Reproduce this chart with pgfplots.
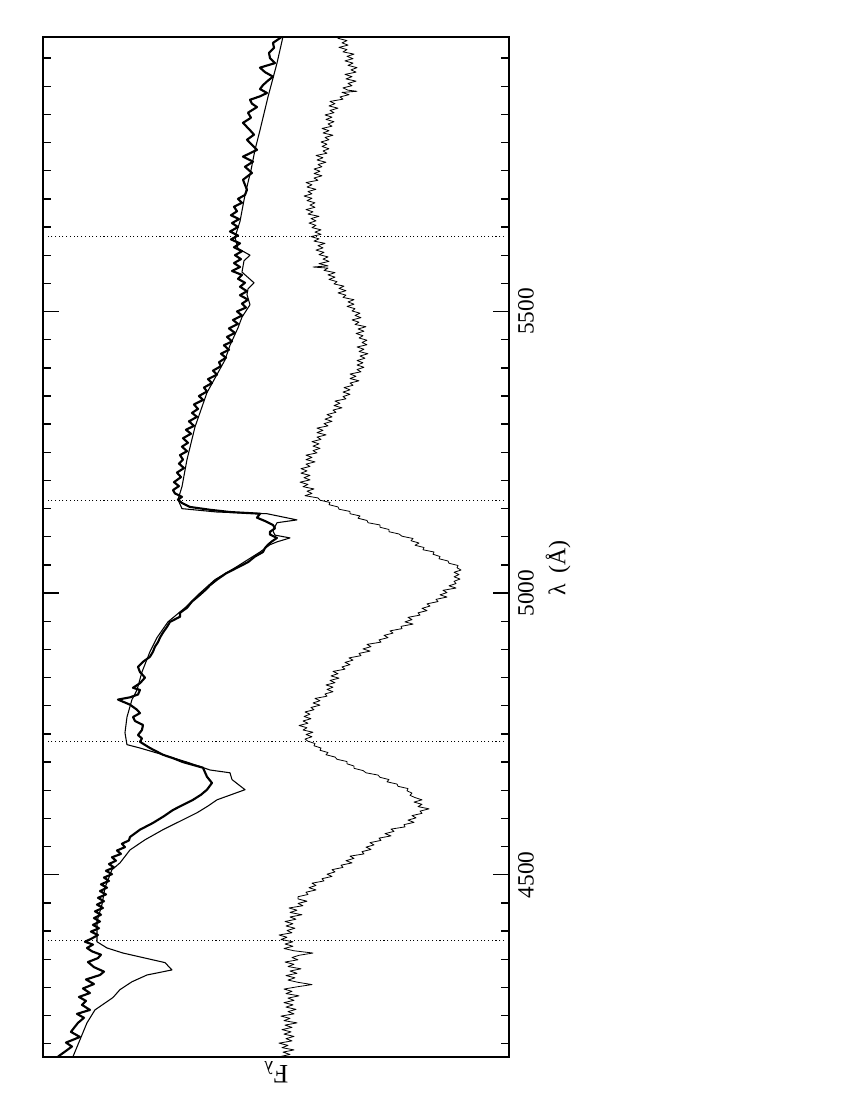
\documentclass[border=0pt]{standalone}
\usepackage{fontspec}
\setmainfont{Liberation Serif}
\usepackage{pgfplots}
\pgfplotsset{compat=1.18}

\begin{document}
\begin{tikzpicture}
% page frame, 850 x 1100 px at 0.75pt per px
\path (0,0) rectangle (637.5pt,825pt);
\begin{axis}[
  at={(32pt,32.5pt)}, anchor=south west,
  scale only axis, width=350pt, height=765pt,
  x dir=reverse,
  xmin=0.7, xmax=467.3,
  ymin=4177, ymax=5988,
  xtick=\empty,
  ytick={4500,5000,5500},
  minor ytick={4200,4250,...,5950},
  yticklabel pos=right,
  ytick pos=both,
  tick align=inside,
  major tick length=12pt, minor tick length=6pt,
  every tick/.append style={line width=1pt, black},
  axis line style={line width=1.4pt},
  /pgf/number format/assume math mode=true,
  /pgf/number format/1000 sep={},
  tick label style={font=\fontsize{17.5}{20}\selectfont},
  yticklabel style={rotate=90, anchor=north},
  yticklabel shift={3pt},
  ylabel={λ\hspace{0.45em}(Å)},
  ylabel style={at={(ticklabel cs:0.479,2pt)}, font=\fontsize{18}{20}\selectfont},
  xlabel={F\textsubscript{λ}},
  xlabel style={at={(rel axis cs:0.5,0)}, anchor=south, rotate=180, font=\fontsize{20}{22}\selectfont},
]

% line positions
\addplot[black, dotted, line width=0.8pt] coordinates {(6,4383) (462,4383)};
\addplot[black, dotted, line width=0.8pt] coordinates {(6,4737) (462,4737)};
\addplot[black, dotted, line width=0.8pt] coordinates {(6,5164) (462,5164)};
\addplot[black, dotted, line width=0.8pt] coordinates {(6,5633) (462,5633)};

% lower spectrum
\addplot[black, line width=0.6pt, line join=round] table[x=f, y=lam, row sep=\\] {
lam f\\
4177 230\\ 4181 220\\ 4185 227\\ 4189 216\\ 4193 228\\ 4197 222\\ 4201 231\\ 4205 218\\ 4209 224\\ 4213 216\\
4217 226\\ 4221 219\\ 4225 228\\ 4229 218\\ 4233 225\\ 4237 213\\ 4241 226\\ 4245 220\\ 4249 229\\ 4253 216\\
4257 222\\ 4261 214\\ 4265 224\\ 4269 217\\ 4273 226\\ 4277 216\\ 4281 222\\ 4285 211\\ 4289 224\\ 4293 218\\
4297 226\\ 4301 213\\ 4305 198\\ 4309 212\\ 4313 222\\ 4317 215\\ 4321 224\\ 4325 213\\ 4329 220\\ 4333 209\\
4337 222\\ 4341 216\\ 4345 225\\ 4349 212\\ 4353 218\\ 4357 211\\ 4361 197\\ 4365 216\\ 4369 226\\ 4373 217\\
4377 225\\ 4381 217\\ 4385 229\\ 4389 223\\ 4393 231\\ 4397 218\\ 4401 223\\ 4405 215\\ 4409 224\\ 4413 217\\
4417 225\\ 4421 214\\ 4425 220\\ 4429 208\\ 4433 220\\ 4437 213\\ 4441 221\\ 4445 207\\ 4449 212\\ 4453 203\\
4457 212\\
4461 212\\ 4465 202\\ 4469 204\\ 4473 194\\ 4477 201\\ 4481 194\\ 4485 198\\ 4489 186\\ 4493 188\\ 4497 178\\
4501 183\\ 4505 175\\ 4509 178\\ 4513 167\\ 4517 169\\ 4521 158\\ 4525 164\\ 4529 156\\ 4533 160\\ 4537 146\\
4541 148\\ 4545 139\\ 4549 144\\ 4553 136\\ 4557 140\\ 4561 129\\ 4565 131\\ 4569 119\\ 4573 125\\ 4577 116\\
4581 119\\ 4585 105\\ 4589 106\\ 4593 96\\ 4597 102\\ 4601 94\\ 4605 98\\ 4609 88\\ 4613 90\\ 4617 81\\
4621 92\\ 4625 88\\ 4629 96\\ 4633 88\\ 4637 95\\
4641 100\\ 4645 98\\ 4649 103\\ 4653 102\\ 4657 112\\ 4661 113\\ 4665 123\\ 4669 121\\ 4673 130\\ 4677 132\\
4681 144\\ 4685 147\\ 4689 156\\ 4693 156\\ 4697 163\\ 4701 163\\ 4705 173\\ 4709 175\\ 4713 184\\ 4717 182\\
4721 190\\ 4725 189\\ 4729 196\\ 4733 195\\ 4737 202\\
4741 205\\ 4745 198\\ 4749 204\\ 4753 197\\ 4757 207\\ 4761 203\\ 4765 211\\ 4769 202\\ 4773 207\\ 4777 199\\
4781 206\\ 4785 200\\ 4789 205\\ 4793 196\\ 4797 199\\ 4801 190\\ 4805 197\\ 4809 190\\ 4813 195\\ 4817 183\\
4821 185\\ 4825 177\\ 4829 183\\
4833 177\\ 4837 184\\ 4841 175\\ 4845 180\\ 4849 171\\ 4853 179\\ 4857 172\\ 4861 177\\ 4865 165\\ 4869 168\\
4873 160\\ 4877 165\\ 4881 157\\ 4885 161\\ 4889 149\\ 4893 151\\ 4897 140\\ 4901 147\\ 4905 139\\ 4909 143\\
4913 129\\ 4917 131\\ 4921 122\\ 4925 126\\ 4929 117\\ 4933 120\\ 4937 108\\ 4941 109\\ 4945 97\\ 4949 105\\
4953 98\\ 4957 102\\ 4961 90\\ 4965 92\\ 4969 83\\ 4973 88\\ 4977 80\\ 4981 83\\ 4985 72\\ 4989 74\\
4993 63\\ 4997 70\\ 5001 63\\ 5005 67\\ 5009 54\\
5013 61\\ 5017 54\\ 5021 56\\ 5025 50\\ 5029 56\\ 5033 51\\ 5037 56\\ 5041 49\\ 5045 53\\ 5049 52\\
5053 61\\ 5057 62\\ 5061 71\\ 5065 70\\ 5069 77\\ 5073 76\\ 5077 87\\ 5081 86\\ 5085 95\\ 5089 91\\
5093 99\\ 5097 97\\ 5101 108\\ 5105 111\\ 5109 121\\ 5113 121\\ 5117 130\\ 5121 130\\ 5125 142\\ 5129 143\\
5133 152\\ 5137 150\\ 5141 160\\ 5145 160\\ 5149 171\\ 5153 172\\ 5157 181\\ 5161 180\\ 5165 190\\ 5169 192\\
5173 205\\ 5177 198\\ 5181 203\\ 5185 196\\ 5189 207\\ 5193 202\\ 5197 210\\ 5201 200\\ 5205 206\\ 5209 200\\
5213 209\\ 5217 203\\ 5221 209\\ 5225 200\\ 5229 204\\ 5233 195\\ 5237 204\\ 5241 198\\ 5245 204\\ 5249 193\\
5253 197\\ 5257 190\\ 5261 197\\ 5265 191\\ 5269 198\\ 5273 189\\ 5277 193\\ 5281 184\\ 5285 193\\ 5289 187\\
5293 193\\ 5297 182\\ 5301 186\\ 5305 178\\ 5309 185\\ 5313 178\\ 5317 183\\ 5321 174\\ 5325 177\\ 5329 168\\
5333 176\\ 5337 170\\ 5341 175\\ 5345 164\\ 5349 167\\ 5353 160\\ 5357 167\\ 5361 160\\ 5365 166\\ 5369 157\\
5373 160\\ 5377 151\\ 5381 160\\ 5385 154\\ 5389 160\\ 5393 149\\ 5397 153\\ 5401 146\\ 5405 153\\ 5409 147\\
5413 153\\ 5417 145\\
5421 150\\ 5425 142\\ 5429 151\\ 5433 146\\ 5437 153\\ 5441 143\\ 5445 148\\ 5449 143\\ 5453 151\\ 5457 147\\
5461 154\\ 5465 146\\ 5469 152\\ 5473 144\\ 5477 155\\ 5481 151\\ 5485 158\\ 5489 149\\ 5493 155\\ 5497 150\\
5501 158\\ 5505 155\\ 5509 163\\ 5513 156\\ 5517 162\\ 5521 156\\ 5525 167\\ 5529 164\\ 5533 172\\ 5537 164\\
5541 171\\ 5545 166\\ 5549 176\\ 5553 173\\ 5557 181\\ 5561 175\\ 5565 182\\ 5569 175\\ 5573 186\\ 5577 182\\
5579 197\\ 5581 182\\ 5585 191\\ 5589 181\\ 5593 187\\ 5597 182\\ 5601 191\\ 5605 186\\ 5609 194\\ 5613 187\\
5617 192\\ 5621 185\\ 5625 196\\ 5629 191\\ 5633 199\\ 5637 189\\ 5641 195\\ 5645 189\\
5649 198\\ 5653 194\\ 5657 201\\ 5661 194\\ 5665 199\\ 5669 191\\ 5673 202\\ 5677 197\\ 5681 204\\ 5685 195\\
5689 200\\ 5693 195\\ 5697 203\\ 5701 198\\ 5705 206\\ 5709 198\\ 5713 202\\ 5717 194\\ 5721 203\\ 5725 198\\
5729 204\\ 5733 192\\ 5737 196\\ 5741 188\\ 5745 196\\ 5749 190\\ 5753 196\\ 5757 188\\ 5761 192\\ 5765 184\\
5769 193\\ 5773 187\\ 5777 194\\ 5781 183\\ 5785 187\\ 5789 181\\ 5793 188\\ 5797 183\\ 5801 189\\ 5805 181\\
5809 185\\ 5813 177\\ 5817 187\\ 5821 181\\ 5825 188\\ 5829 178\\ 5833 182\\ 5837 176\\ 5841 184\\ 5845 178\\
5849 185\\ 5853 176\\ 5857 180\\ 5861 172\\ 5865 181\\ 5869 175\\ 5873 180\\ 5877 167\\ 5881 170\\ 5885 161\\
5889 168\\ 5891 153\\ 5893 162\\ 5897 167\\ 5901 158\\ 5905 162\\ 5909 154\\ 5913 164\\ 5917 158\\ 5921 165\\
5925 154\\ 5929 159\\ 5933 153\\ 5937 162\\ 5941 157\\ 5945 165\\ 5949 157\\ 5953 163\\ 5957 156\\ 5961 167\\
5965 163\\ 5969 171\\ 5973 162\\ 5977 168\\ 5981 163\\ 5985 172\\ 5988 168\\
};

% model
\addplot[black, line width=0.8pt, line join=round] table[x=f, y=lam, row sep=\\] {
lam f\\
4177 437\\ 4207 430\\ 4237 423\\ 4260 415\\ 4282 397\\ 4296 390\\ 4310 378\\ 4322 363\\ 4331 338\\ 4344 345\\
4361 387\\ 4370 403\\ 4381 413\\ 4417 413\\ 4447 408\\ 4477 405\\ 4509 398\\ 4521 390\\ 4544 380\\ 4562 365\\
4580 347\\ 4595 330\\ 4610 313\\ 4622 302\\ 4633 293\\ 4651 265\\ 4669 278\\ 4681 280\\ 4686 300\\ 4700 323\\
4712 345\\ 4725 370\\ 4731 383\\ 4752 385\\ 4780 383\\ 4811 378\\ 4828 373\\ 4860 368\\ 4896 360\\ 4921 353\\
4949 342\\ 4974 325\\ 4997 312\\ 5024 295\\ 5045 275\\ 5073 250\\ 5086 240\\ 5091 233\\ 5098 220\\ 5103 235\\
5110 237\\ 5118 235\\ 5125 233\\ 5130 213\\ 5141 243\\ 5144 293\\ 5150 328\\ 5166 332\\ 5189 328\\ 5237 323\\
5295 315\\ 5356 303\\ 5414 285\\ 5440 280\\ 5471 272\\ 5490 268\\ 5512 260\\ 5530 263\\ 5540 262\\ 5551 256\\
5570 268\\ 5590 266\\ 5600 260\\ 5612 272\\ 5632 275\\ 5660 270\\ 5707 265\\ 5751 259\\ 5787 255\\ 5822 250\\
5881 242\\ 5941 233\\ 5988 227\\
};

% observed spectrum
\addplot[black, line width=1.6pt, line join=round] table[x=f, y=lam, row sep=\\] {
lam f\\
4177 452\\ 4186 445\\ 4195 438\\ 4202 444\\ 4212 430\\ 4221 439\\ 4228 436\\ 4237 432\\ 4246 426\\ 4253 433\\
4260 420\\ 4269 428\\ 4276 424\\ 4283 431\\ 4290 420\\ 4298 427\\ 4306 416\\ 4314 424\\ 4322 410\\ 4328 406\\
4336 416\\ 4345 422\\ 4352 412\\ 4358 409\\ 4364 418\\ 4370 423\\ 4376 417\\ 4381 425\\ 4387 418\\ 4393 412\\
4399 419\\ 4405 411\\ 4411 417\\ 4417 410\\ 4423 416\\ 4429 409\\ 4435 415\\ 4441 407\\ 4447 413\\ 4453 406\\
4459 412\\ 4465 404\\ 4471 410\\ 4477 403\\ 4483 409\\ 4489 401\\ 4495 406\\ 4501 398\\ 4507 404\\ 4513 396\\
4519 401\\ 4525 394\\ 4531 398\\ 4537 389\\ 4543 393\\ 4549 385\\ 4555 388\\ 4561 381\\ 4567 380\\ 4580 370\\
4592 357\\ 4604 346\\ 4615 337\\ 4624 327\\ 4633 317\\ 4642 309\\ 4651 303\\ 4663 298\\ 4674 303\\ 4682 305\\
4690 307\\ 4700 327\\ 4707 337\\ 4713 347\\ 4725 360\\ 4736 370\\ 4742 368\\ 4748 372\\ 4757 368\\ 4766 367\\
4773 375\\ 4780 377\\ 4787 370\\ 4793 373\\ 4802 380\\ 4811 392\\ 4815 380\\ 4820 372\\ 4828 370\\ 4832 377\\
4840 370\\ 4850 365\\ 4860 370\\ 4869 372\\ 4878 367\\ 4887 360\\ 4896 357\\ 4905 355\\ 4913 352\\ 4921 350\\
4930 347\\ 4940 343\\ 4949 340\\ 4958 330\\ 4965 330\\ 4974 323\\ 4985 318\\ 4997 310\\ 5005 305\\ 5014 300\\
5024 293\\ 5035 284\\ 5045 273\\ 5055 262\\ 5065 255\\ 5073 247\\ 5080 245\\ 5086 242\\ 5092 238\\ 5098 233\\
5104 240\\ 5109 240\\ 5115 235\\ 5121 237\\ 5128 245\\ 5134 253\\ 5141 250\\ 5144 280\\ 5148 300\\ 5153 320\\
5160 328\\ 5166 332\\ 5171 328\\ 5177 335\\ 5183 337\\ 5190 331\\ 5197 336\\ 5206 329\\ 5214 333\\ 5222 326\\
5230 331\\ 5237 327\\ 5245 330\\ 5252 323\\ 5260 328\\ 5267 322\\ 5275 327\\ 5283 319\\ 5290 324\\ 5297 316\\
5305 321\\ 5313 313\\ 5320 318\\ 5327 312\\ 5335 316\\ 5343 307\\ 5350 311\\ 5358 303\\ 5365 306\\ 5373 298\\
5380 302\\ 5388 293\\ 5395 297\\ 5403 289\\ 5410 291\\ 5418 284\\ 5425 289\\ 5432 281\\ 5440 286\\ 5447 278\\
5455 283\\ 5462 275\\ 5470 281\\ 5478 272\\ 5485 277\\ 5493 268\\ 5500 273\\ 5507 264\\ 5514 268\\ 5521 262\\
5529 270\\ 5536 263\\ 5544 270\\ 5551 265\\ 5558 272\\ 5565 268\\ 5572 278\\ 5579 270\\ 5586 276\\ 5593 269\\
5600 275\\ 5607 268\\ 5614 276\\ 5621 270\\ 5628 279\\ 5635 272\\ 5642 280\\ 5650 272\\ 5657 278\\ 5664 271\\
5671 279\\ 5678 273\\ 5686 276\\ 5693 268\\ 5700 272\\ 5707 265\\ 5716 263\\ 5734 267\\ 5746 258\\ 5757 265\\
5766 257\\ 5775 267\\ 5787 253\\ 5796 258\\ 5805 263\\ 5814 256\\ 5822 260\\ 5835 267\\ 5844 259\\ 5853 262\\
5863 253\\ 5869 258\\ 5876 260\\ 5882 250\\ 5888 243\\ 5895 250\\ 5902 247\\ 5910 242\\ 5917 237\\ 5925 245\\
5933 250\\ 5941 235\\ 5950 240\\ 5959 241\\ 5968 236\\ 5977 237\\ 5983 232\\ 5988 228\\
};

\end{axis}
\end{tikzpicture}
\end{document}
